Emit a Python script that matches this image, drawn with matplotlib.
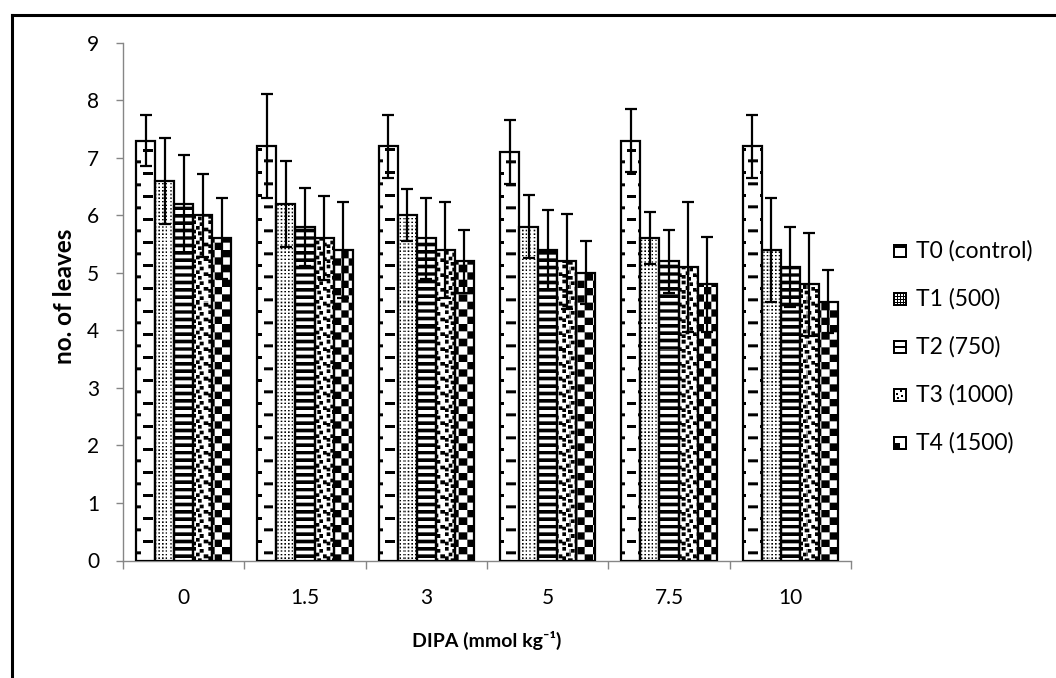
import numpy as np
import matplotlib
matplotlib.use("Agg")
import matplotlib.pyplot as plt
from matplotlib.lines import Line2D

# ---- data -------------------------------------------------------------
doses = ["0", "1.5", "3", "5", "7.5", "10"]
treatments = ["T0 (control)", "T1 (500)", "T2 (750)", "T3 (1000)", "T4 (1500)"]

t0 = [7.3, 7.2, 7.2, 7.1, 7.3, 7.2]
t1 = [6.6, 6.2, 6.0, 5.8, 5.6, 5.4]
t2 = [6.2, 5.8, 5.6, 5.4, 5.2, 5.1]
t3 = [6.0, 5.6, 5.4, 5.2, 5.1, 4.8]
t4 = [5.6, 5.4, 5.2, 5.0, 4.8, 4.5]

t0_err = [0.45, 0.90, 0.55, 0.55, 0.55, 0.55]
t1_err = [0.75, 0.75, 0.45, 0.55, 0.45, 0.90]
t2_err = [0.85, 0.68, 0.70, 0.70, 0.55, 0.70]
t3_err = [0.72, 0.73, 0.83, 0.83, 1.13, 0.90]
t4_err = [0.70, 0.83, 0.55, 0.55, 0.83, 0.55]

y_ticks = [0, 1, 2, 3, 4, 5, 6, 7, 8, 9]

series = [t0, t1, t2, t3, t4]
errors = [t0_err, t1_err, t2_err, t3_err, t4_err]

# ---- fonts --------------------------------------------------------------
plt.rcParams["font.family"] = ["Lato", "DejaVu Sans"]

W, H, DPI = 1056, 678, 100
AX_L, AX_R, AX_T, AX_B = 123.0, 851.0, 42.7, 560.5
GRAY = "#868686"
FS_TICK = 15
FS_LEG = 16.5

fig = plt.figure(figsize=(W / DPI, H / DPI), dpi=DPI)
fig.patch.set_facecolor("white")
ax = fig.add_axes([AX_L / W, (H - AX_B) / H, (AX_R - AX_L) / W, (AX_B - AX_T) / H])


# ---- fill patterns (pixel space, anchored to the page) -----------------
CONFETTI = np.zeros((8, 8), dtype=bool)
for r, c in [(0, 0), (1, 4), (3, 2), (4, 6), (5, 0), (6, 3)]:
    for dr in (0, 1):
        for dc in (0, 1):
            CONFETTI[(r + dr) % 8, (c + dc) % 8] = True


def pat_dash(X, Y):
    ty, tx = np.mod(Y, 23.0), np.mod(X, 22.0)
    a = (ty < 3.0) & (tx < 9.0)
    b = (ty >= 11.5) & (ty < 14.5) & (tx >= 11.0) & (tx < 20.0)
    return a | b


def pat_dots(X, Y):
    return (np.mod(X, 3.6) < 1.5) & (np.mod(Y, 3.6) < 1.5)


def pat_hlines(X, Y):
    return np.mod(Y, 7.4) < 3.6


def pat_confetti(X, Y):
    cx = (np.mod(X, 14.8) // 1.85).astype(int) % 8
    cy = (np.mod(Y, 14.8) // 1.85).astype(int) % 8
    return CONFETTI[cy, cx]


def pat_checker(X, Y):
    return ((np.floor(X / 7.4) + np.floor(Y / 7.4)) % 2) == 0


patterns = [pat_dash, pat_dots, pat_hlines, pat_confetti, pat_checker]

n_rows = int(round(AX_B - AX_T))
n_cols = int(round(AX_R - AX_L))
S = 3


def render(fn):
    ys = AX_T + (np.arange(n_rows * S) + 0.5) / S * (AX_B - AX_T) / n_rows
    xs = AX_L + (np.arange(n_cols * S) + 0.5) / S * (AX_R - AX_L) / n_cols
    X, Y = np.meshgrid(xs, ys)
    m = fn(X, Y).astype(float)
    return m.reshape(n_rows, S, n_cols, S).mean(axis=(1, 3))


# ---- bars -------------------------------------------------------------
n_grp = len(doses)
n_ser = len(series)
x = np.arange(n_grp)
bw = 0.783 / n_ser
xlim = (-0.5, n_grp - 0.5)
ylim = (0, 9)

for k, (vals, errs, fn) in enumerate(zip(series, errors, patterns)):
    xs = x + (k - (n_ser - 1) / 2) * bw
    bars = ax.bar(xs, vals, width=bw, color="white", edgecolor="none",
                  zorder=2)
    tex = render(fn)
    for b in bars:
        im = ax.imshow(tex, extent=(xlim[0], xlim[1], ylim[0], ylim[1]),
                       origin="upper", cmap="gray_r", vmin=0, vmax=1,
                       interpolation="nearest", aspect="auto", zorder=2.5)
        im.set_clip_path(b)
    ax.bar(xs, vals, width=bw, fill=False, edgecolor="black",
           linewidth=1.6, zorder=3)
    ax.errorbar(xs, vals, yerr=errs, fmt="none", ecolor="black",
                elinewidth=1.6, capsize=4.5, capthick=1.6, zorder=5)

ax.set_xlim(*xlim)
ax.set_ylim(*ylim)

# ---- axes styling -----------------------------------------------------
for s in ("top", "right"):
    ax.spines[s].set_visible(False)
for s in ("left", "bottom"):
    ax.spines[s].set_color(GRAY)
    ax.spines[s].set_linewidth(1.0)

ax.set_yticks(y_ticks)
ax.set_yticklabels([str(v) for v in y_ticks], fontsize=FS_TICK)
ax.tick_params(axis="y", direction="out", length=5, width=1.0, color=GRAY,
               pad=12)

ax.set_xticks(np.arange(n_grp + 1) - 0.5)
ax.set_xticklabels([])
ax.set_xticks(x, minor=True)
ax.set_xticklabels(doses, minor=True, fontsize=FS_TICK)
ax.tick_params(axis="x", which="major", direction="out", length=6,
               width=1.0, color=GRAY)
ax.tick_params(axis="x", which="minor", length=0, pad=20)

ax.set_xlabel("DIPA (mmol kg\u207b\u00b9)", fontsize=14, fontweight="bold",
              va="center")
ax.xaxis.set_label_coords(0.5, (AX_B - 640) / (AX_B - AX_T))
ax.set_ylabel("no. of leaves", fontsize=17.5, fontweight="bold", va="center")
ax.yaxis.set_label_coords((64 - AX_L) / (AX_R - AX_L), 0.51)

# ---- legend -----------------------------------------------------------
def icon(kind):
    a = np.zeros((14, 14))
    a[:2, :] = 1
    a[-2:, :] = 1
    a[:, :2] = 1
    a[:, -2:] = 1
    inner = a[2:-2, 2:-2]
    if kind == 0:
        inner[0:2, :] = 1
    elif kind == 1:
        for i in range(10):
            for j in range(10):
                if i % 3 == 2 or j % 3 == 2:
                    inner[i, j] = 1
    elif kind == 2:
        inner[4:6, :] = 1
    elif kind == 3:
        for r, c in [(0, 5), (3, 1), (5, 6), (7, 2)]:
            inner[r:r + 2, c:c + 2] = 1
    else:
        inner[5:, :5] = 1
    return a


leg_rows = [251, 299, 347, 395, 443]
for k, (lab, yc) in enumerate(zip(treatments, leg_rows)):
    fig.figimage(icon(k), xo=893, yo=int(H - yc - 7), origin="upper",
                 cmap="gray_r", vmin=0, vmax=1, zorder=5)
    fig.text(916 / W, (H - yc) / H, lab, fontsize=FS_LEG, va="center",
             ha="left")

# ---- outer frame --------------------------------------------------------
fl, ft = 11.5 / W, (H - 14.5) / H
fig.add_artist(Line2D([fl, fl], [0, ft], transform=fig.transFigure,
                      color="black", linewidth=2.2, solid_capstyle="projecting"))
fig.add_artist(Line2D([fl, 1.0], [ft, ft], transform=fig.transFigure,
                      color="black", linewidth=2.2, solid_capstyle="projecting"))

fig.savefig("out.png", dpi=DPI, facecolor="white")
